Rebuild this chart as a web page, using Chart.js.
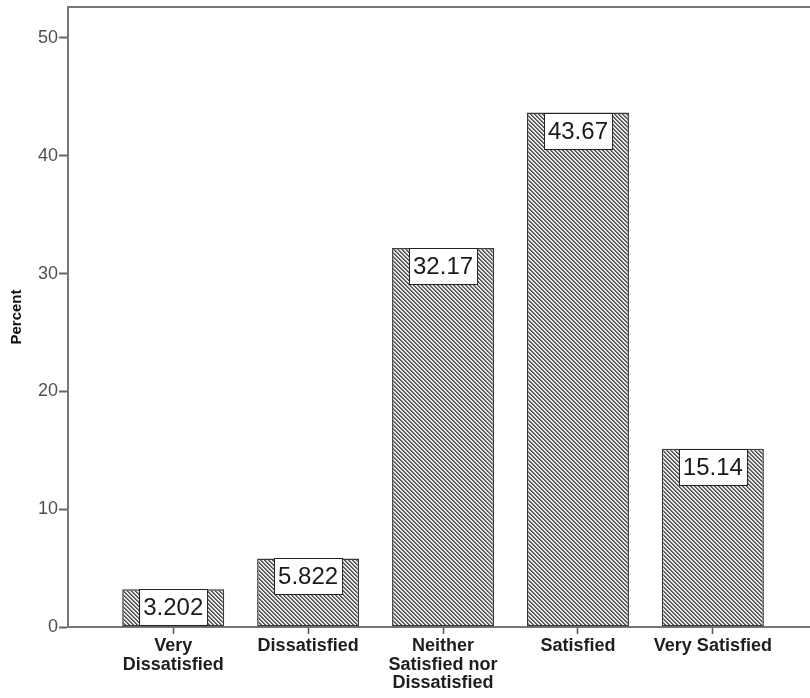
<!DOCTYPE html>
<html><head><meta charset="utf-8">
<script src="https://cdn.jsdelivr.net/npm/chart.js@4.4.1/dist/chart.umd.min.js"></script>
<style>html,body{margin:0;padding:0;background:#fff;}#wrap{width:810px;height:698px;}</style>
</head><body><div id="wrap"><canvas id="c" width="810" height="698"></canvas></div>
<script>
const categories = [['Very', 'Dissatisfied'], 'Dissatisfied', ['Neither', 'Satisfied nor', 'Dissatisfied'], 'Satisfied', 'Very Satisfied'];
const percentValues = [3.202, 5.822, 32.17, 43.67, 15.14];
const valueLabels = ['3.202', '5.822', '32.17', '43.67', '15.14'];
const yTickValues = [0, 10, 20, 30, 40, 50];
const yTickLabels = ['0', '10', '20', '30', '40', '50'];
const yAxisTitle = 'Percent';

const FONT = "'Liberation Sans', Arial, sans-serif";

function makeHatch() {
  const t = document.createElement('canvas');
  t.width = 4; t.height = 4;
  const c = t.getContext('2d');
  const img = c.createImageData(4, 4);
  const shades = [0x50, 0x72, 0xdc, 0xf4];
  for (let y = 0; y < 4; y++) for (let x = 0; x < 4; x++) {
    const k = ((x - y) % 4 + 4) % 4;
    const v = shades[k];
    const i = (y * 4 + x) * 4;
    img.data[i] = v; img.data[i + 1] = v; img.data[i + 2] = v; img.data[i + 3] = 255;
  }
  c.putImageData(img, 0, 0);
  return document.getElementById('c').getContext('2d').createPattern(t, 'repeat');
}

const valueBoxes = {
  id: 'valueBoxes',
  afterDatasetsDraw(chart) {
    const ctx = chart.ctx;
    const meta = chart.getDatasetMeta(0);
    ctx.save();
    ctx.font = '24px ' + FONT;
    ctx.textAlign = 'center';
    ctx.textBaseline = 'middle';
    meta.data.forEach((el, i) => {
      const txt = valueLabels[i];
      const w = ctx.measureText(txt).width + 8;
      const h = 36;
      const x0 = Math.round(el.x - w / 2) + 0.5;
      const y0 = Math.round(el.y) + 0.5;
      ctx.fillStyle = '#ffffff';
      ctx.fillRect(x0, y0, w, h);
      ctx.strokeStyle = '#222';
      ctx.lineWidth = 1;
      ctx.strokeRect(x0, y0, w, h);
      ctx.fillStyle = '#1a1a1a';
      ctx.fillText(txt, el.x, y0 + h / 2 + 1);
    });
    ctx.restore();
  }
};

const topBorder = {
  id: 'topBorder',
  afterDraw(chart) {
    const {ctx, chartArea} = chart;
    ctx.save();
    ctx.strokeStyle = '#777';
    ctx.lineWidth = 2;
    ctx.beginPath();
    ctx.moveTo(chartArea.left - 1, chartArea.top);
    ctx.lineTo(chartArea.right, chartArea.top);
    ctx.stroke();
    ctx.restore();
  }
};

new Chart(document.getElementById('c'), {
  type: 'bar',
  data: {
    datasets: [{
      data: percentValues.map((v, i) => ({x: i, y: v})),
      backgroundColor: makeHatch(),
      borderColor: '#3a3a3a',
      borderWidth: 1.5,
      borderSkipped: false,
      barPercentage: 0.756,
      categoryPercentage: 1.0
    }]
  },
  options: {
    responsive: false,
    animation: false,
    layout: {padding: {top: 7, right: 0, left: 0, bottom: 0}},
    plugins: {legend: {display: false}, tooltip: {enabled: false}},
    scales: {
      x: {
        type: 'linear',
        min: -0.78,
        max: 4.72,
        offset: false,
        bounds: 'data',
        afterBuildTicks: s => { s.ticks = categories.map((c, i) => ({value: i})); },
        afterFit: s => { s.height = 71; s.paddingLeft = 0; s.paddingRight = 0; },
        border: {display: true, color: '#777', width: 2},
        grid: {display: true, drawOnChartArea: false, drawTicks: true, offset: false, tickLength: 7, tickColor: '#555', tickWidth: 1.5},
        ticks: {
          autoSkip: false, maxRotation: 0, minRotation: 0, padding: 3,
          color: '#1e1e1e',
          font: {family: FONT, size: 18, weight: 'bold', lineHeight: 1.03},
          callback: v => categories[v]
        }
      },
      y: {
        min: 0,
        max: 52.63,
        bounds: 'data',
        afterBuildTicks: s => { s.ticks = yTickValues.map(v => ({value: v})); },
        afterFit: s => { s.width = 68; s.paddingTop = 0; s.paddingBottom = 0; },
        border: {display: true, color: '#777', width: 2},
        grid: {display: true, drawOnChartArea: false, drawTicks: true, tickLength: 9, tickColor: '#666', tickWidth: 2},
        ticks: {
          padding: 1,
          color: '#505050',
          font: {family: FONT, size: 18},
          callback: (v) => yTickLabels[yTickValues.indexOf(v)]
        },
        title: {
          display: true, text: yAxisTitle, color: '#111',
          font: {family: FONT, size: 15, weight: 'bold'},
          padding: {top: 8, bottom: 0}
        }
      }
    }
  },
  plugins: [valueBoxes, topBorder]
});
</script></body></html>
